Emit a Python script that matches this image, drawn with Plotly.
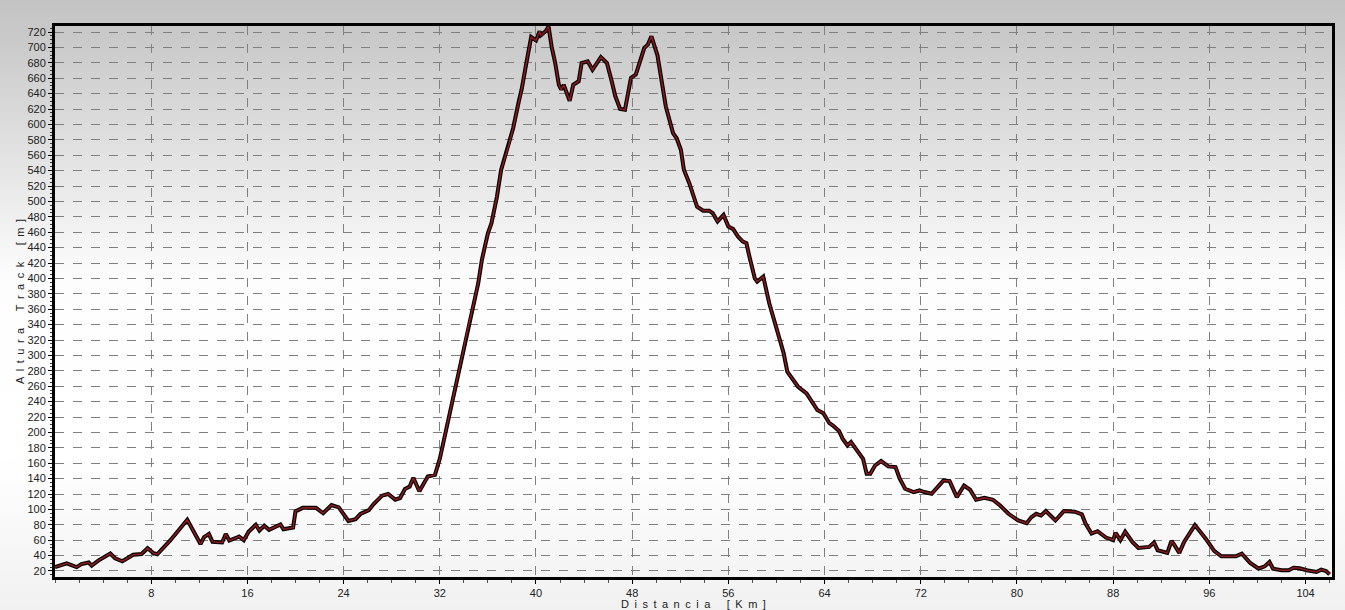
import base64
import plotly.graph_objects as go

distancia_km = [
    0.0, 0.97, 1.8, 2.2, 2.8, 3.05, 3.6, 4.6, 5.0, 5.6, 6.5, 7.2, 7.7, 8.2, 8.5,
    9.6, 11.0, 11.7, 12.1, 12.4, 12.8, 13.1, 13.9, 14.2, 14.5, 15.0, 15.3, 15.7,
    16.1, 16.7, 17.0, 17.4, 17.8, 18.75, 19.0, 19.8, 20.0, 20.6, 21.7,
    22.3, 23.0, 23.6, 24.0, 24.4, 25.0, 25.4, 26.1, 26.5, 27.2, 27.7, 28.3, 28.7,
    29.1, 29.5, 29.8, 30.3, 31.0, 31.6, 32.0, 32.4, 32.8,
    33.4, 34.0, 34.1, 34.7, 35.2, 35.5, 36.0, 36.3, 36.75, 37.1, 37.7, 38.1, 38.6,
    38.8, 39.2, 39.6, 40.0, 40.3, 40.4, 40.8, 41.05, 41.3, 41.6, 41.9, 42.1, 42.3,
    42.8, 43.1, 43.55, 43.8, 44.3, 44.7, 45.4, 45.9, 46.3, 46.6, 47.0, 47.4, 47.9,
    48.3, 48.7, 49.0, 49.3, 49.6, 50.1, 50.4, 50.8, 51.4,
    51.7, 52.05, 52.3, 52.75, 53.2, 53.4, 53.9, 54.4, 54.7, 55.1, 55.6, 56.0, 56.4,
    56.8, 57.2, 57.5, 57.75, 58.2, 58.4, 58.9, 59.4, 60.1, 60.6, 60.9, 61.4, 61.8,
    62.5, 63.0, 63.4, 63.9,
    64.4, 64.7, 65.2, 65.5, 65.9, 66.2, 66.6, 67.2, 67.5, 67.8, 68.2, 68.7, 69.3,
    69.9, 70.25, 70.7, 71.4, 71.9, 72.3, 72.9, 73.4, 73.9, 74.4, 75.0, 75.6, 76.1,
    76.6, 77.3, 78.0, 78.6, 79.3, 80.1, 80.8, 81.2, 81.6, 82.0, 82.4, 83.2,
    83.9, 84.8, 85.4, 85.7, 86.2, 86.7, 87.4, 88.0, 88.2, 88.6, 89.0, 89.6, 90.1,
    91.0, 91.4, 91.7, 92.5, 92.85, 93.1, 93.5, 93.9, 94.8, 95.7, 96.4, 97.0, 98.2,
    98.7, 99.4, 100.1, 100.6, 101.0, 101.3, 102.0, 102.6, 103.0, 103.5, 104.1,
    104.9, 105.3, 105.7, 106.0,
]
altura_m = [
    25, 30, 25, 29, 31, 27, 33.5, 42.6, 36.5, 32.6, 41, 42, 49.6, 43, 41.7,
    60, 86.5, 67, 55, 64, 68, 58, 57, 68, 59.6, 62.6, 64.8, 60,
    71, 80, 72.6, 78.7, 73.5, 80.4, 74.3, 76.5, 97.4, 102, 102,
    95, 105.6, 102.6, 94, 85, 87.4, 94, 99, 107, 117.8, 120, 112.6, 114.8,
    126.5, 129.6, 141, 123.5, 142.6, 145, 165.7, 194, 224.3,
    263.7, 309, 318, 359, 393.7, 424, 458.7, 471.7, 506, 541, 571, 595, 632,
    645, 679.7, 713.5, 709, 721, 715.7, 721, 727, 701, 679.7, 651.5, 645, 651.5,
    630.7, 651.5, 656, 679.7, 682, 671, 687.5, 679.7, 656, 636.5, 620, 619, 660.3,
    664.7, 684, 699, 703.5, 714.4, 690, 662, 623, 588.7,
    582, 567, 541, 523.7, 502, 493, 488, 488, 484.7, 474, 482.5, 467.3, 464,
    454.3, 447.8, 445.7, 428.4, 400, 395.8, 402.3, 367.7, 328.7, 302.7, 278.8, 268, 259.3,
    250.7, 237.7, 229, 225,
    212, 209, 201.8, 191.8, 183, 187.5, 178.8, 165.8, 146.3, 146.3, 157, 162.8, 155.8,
    155, 139.8, 126.8, 122.5, 124.6, 122.5, 120.3, 129, 137.6, 136.8, 116, 131, 125.5,
    112.5, 115, 112.5, 105, 94.3, 85.6, 82, 90, 94.3, 92, 97.8, 85.6,
    97.8, 97, 93.5, 81.7, 68.7, 71.7, 63.5, 60, 69.6, 60, 71, 57.8, 50,
    51.3, 57, 47, 43.5, 59, 53.5, 43.5, 57.8, 79.6, 62, 46, 39, 39,
    42.6, 30.4, 23, 26, 31.7, 23, 21, 21, 24.3, 23.5, 21,
    18.7, 21.7, 20, 15.6,
]

y_ticks = list(range(20, 721, 20))
x_ticks = list(range(8, 105, 8))

W, H = 1345, 610
ML, MR, MT, MB = 55, 13, 26, 33
PW, PH = W - ML - MR, H - MT - MB

svg = (
    '<svg xmlns="http://www.w3.org/2000/svg" width="100" height="100" preserveAspectRatio="none">'
    '<defs><linearGradient id="g" x1="0" y1="0" x2="0" y2="1">'
    '<stop offset="0" stop-color="#c4c4c4"/>'
    '<stop offset="0.06" stop-color="#c9c9c9"/>'
    '<stop offset="0.46" stop-color="#fdfdfd"/>'
    '<stop offset="0.75" stop-color="#ffffff"/>'
    '<stop offset="1" stop-color="#f1f1f1"/>'
    '</linearGradient></defs>'
    '<rect x="0" y="0" width="100" height="100" fill="url(#g)"/></svg>'
)
bg_src = "data:image/svg+xml;base64," + base64.b64encode(svg.encode()).decode()


def spaced(text):
    sp = "\u2002"
    return sp.join(text).replace(sp + " " + sp, sp * 3)


fig = go.Figure()
fig.add_trace(go.Scatter(x=distancia_km, y=altura_m, mode="lines",
                         line=dict(color="#000000", width=4), hoverinfo="skip",
                         showlegend=False))
fig.add_trace(go.Scatter(x=distancia_km, y=altura_m, mode="lines",
                         line=dict(color="#8b1a1a", width=1.6), showlegend=False))

font_tick = dict(family="Liberation Sans, Arial, sans-serif", size=11, color="#222222")

fig.update_layout(
    width=W, height=H,
    margin=dict(l=ML, r=MR, t=MT, b=MB),
    paper_bgcolor="#e6e6e6",
    plot_bgcolor="rgba(0,0,0,0)",
    images=[dict(source=bg_src, xref="paper", yref="paper",
                 x=-ML / PW, y=1 + MT / PH, sizex=W / PW, sizey=H / PH,
                 xanchor="left", yanchor="top", sizing="stretch", layer="below")],
    xaxis=dict(
        range=[0, 106.2], tickmode="array", tickvals=x_ticks,
        ticktext=[str(v) for v in x_ticks], automargin=False,
        showgrid=True, gridcolor="#808080", griddash="dash", gridwidth=1,
        zeroline=False, showline=True, linecolor="#000000", linewidth=3, mirror=True,
        ticks="outside", ticklen=4, tickcolor="#000000", tickfont=font_tick,
        minor=dict(dtick=2, ticks="outside", ticklen=3, tickcolor="#555555", showgrid=False),
        title=dict(text=spaced("Distancia [Km]"), standoff=2,
                   font=dict(family="Liberation Sans, Arial, sans-serif", size=11, color="#222222")),
    ),
    yaxis=dict(
        range=[12.2, 727.8], tickmode="array", tickvals=y_ticks,
        ticktext=[str(v) for v in y_ticks], automargin=False,
        showgrid=True, gridcolor="#808080", griddash="dash", gridwidth=1,
        zeroline=False, showline=True, linecolor="#000000", linewidth=3, mirror=True,
        ticks="outside", ticklen=4, tickcolor="#000000", tickfont=font_tick,
        minor=dict(dtick=5, ticks="outside", ticklen=2, tickcolor="#333333", showgrid=False),
        title=dict(text=spaced("Altura Track [m]"), standoff=1,
                   font=dict(family="Liberation Sans, Arial, sans-serif", size=11, color="#222222")),
    ),
)

fig.write_html("out.html", config={"displayModeBar": False},
               post_script="document.body.style.margin='0';document.body.style.padding='0';")
